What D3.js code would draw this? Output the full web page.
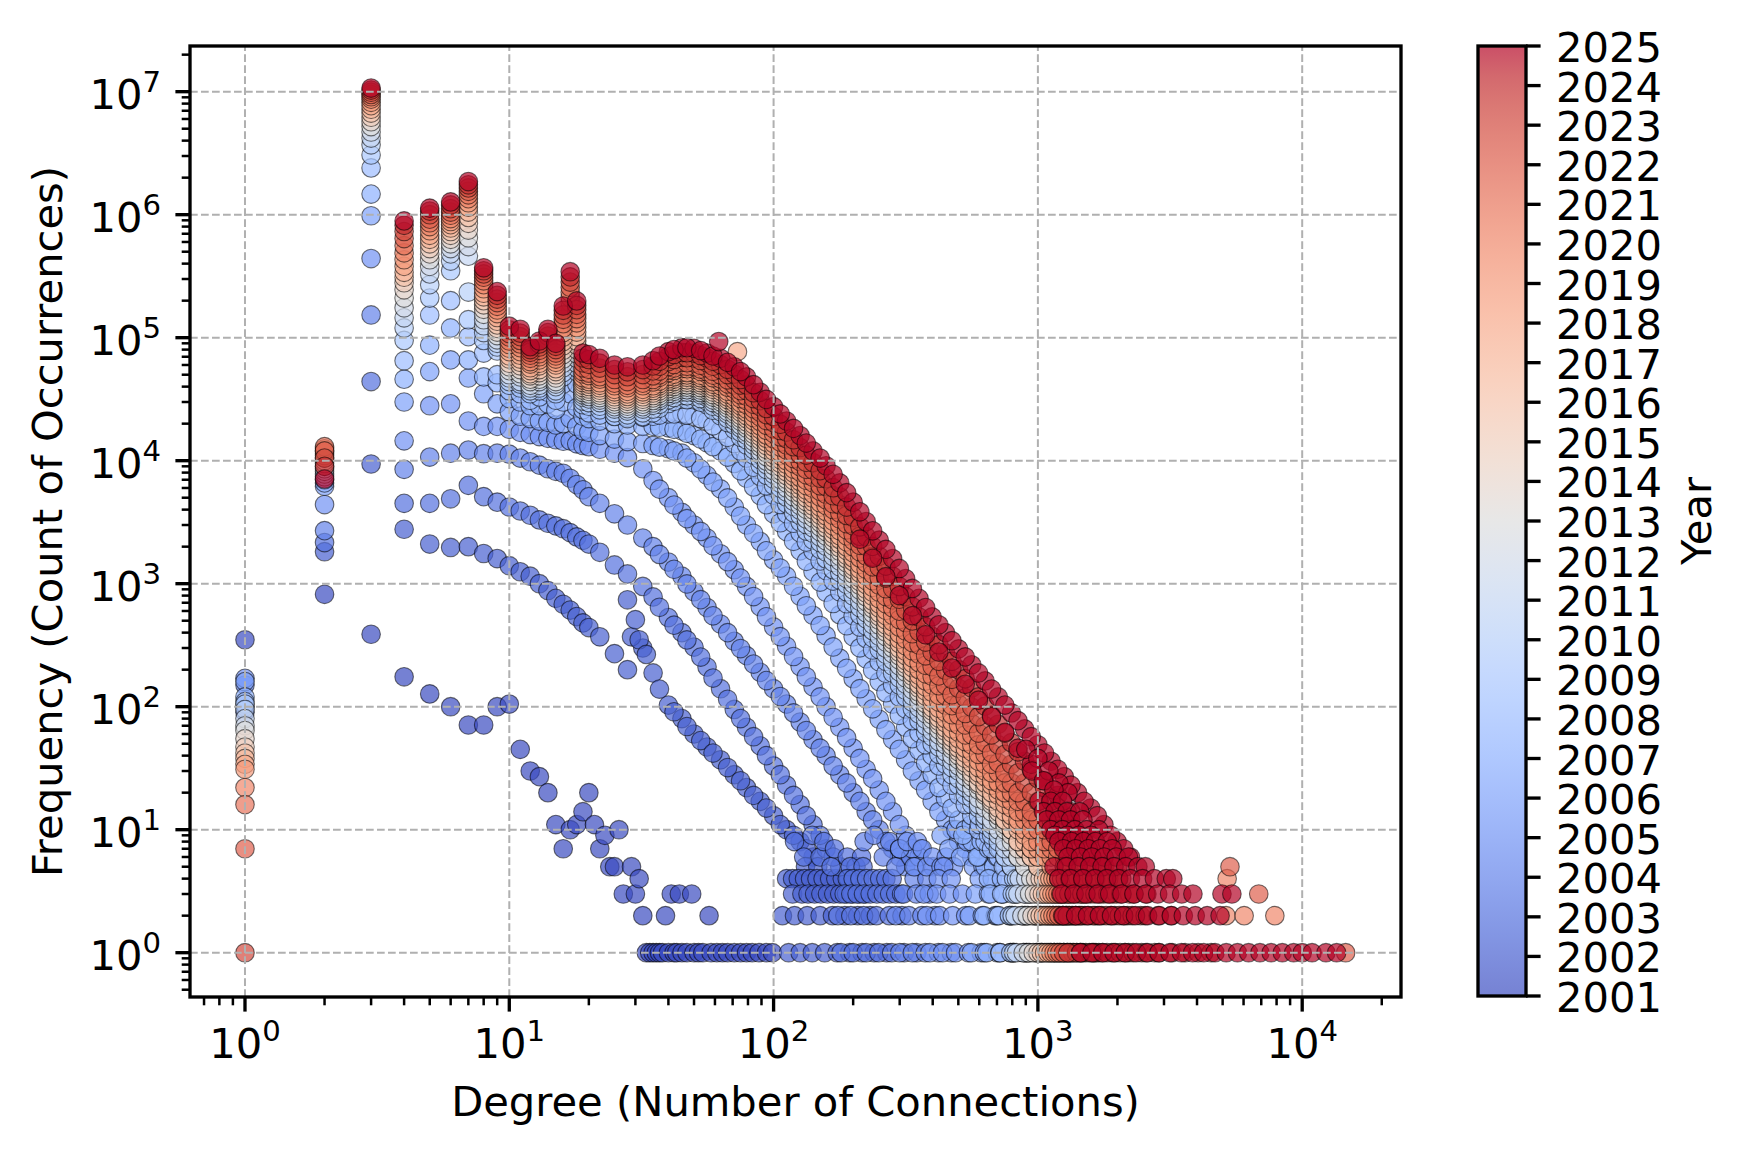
<!doctype html>
<html>

<head>
  <meta charset="utf-8">
  <title>Degree distribution by year</title>
  <script src="https://cdnjs.cloudflare.com/ajax/libs/d3/7.8.5/d3.min.js"></script>
  <style>
    body {
      margin: 0;
      background: #fff;
    }

    svg {
      display: block;
      font-family: 'DejaVu Sans', sans-serif;
    }
  </style>
</head>

<body>
  <svg id="chart" width="1749" height="1156"></svg>
  <script>
    // ---- data ----
    const years = [2001, 2002, 2003, 2004, 2005, 2006, 2007, 2008, 2009, 2010, 2011, 2012, 2013,
      2014, 2015, 2016, 2017, 2018, 2019, 2020, 2021, 2022, 2023, 2024, 2025];

    // degrees at which every year is sampled (the fNNNN arrays follow this order)
    const degGrid = [1, 2, 3, 4, 5, 6, 7, 8, 9, 10, 11, 12, 13, 14, 15, 16, 17, 18,
      19, 20, 22, 25, 28, 32, 35, 40, 45, 50, 56, 63, 71, 79, 89, 100, 112, 126, 141, 158, 178,
      200, 224, 251, 282, 316, 355, 398, 447, 501, 562, 631, 708, 794, 891, 1000, 1122, 1259,
      1413, 1585, 1778, 1995, 2239];
    // further degrees read along the falling part of each curve (the mNNNN arrays follow this order)
    const degMid = [37, 42, 47, 53, 59, 67, 75, 84, 94, 106, 119, 133, 150, 168, 189, 212, 237, 266,
      299, 335, 376, 422, 473, 531, 596, 668, 750, 841, 944, 1059, 1189, 1334, 1496, 1679, 1884, 2113];

    const f2001 = [350, 820, 388, 175, 127, 100, 71, 71, 100, 105, 45, 30, 27, 20, 11, 7, 10, 11, 14, 20];
    const f2002 = [90, 1820, 9400, 2770, 2100, 1970, 2000, 1760, 1600, 1400, 1250, 1150, 1000, 880, 760, 680, 610, 540,
      480, 440, 370, 270, 200, 300, 188, 103, 80, 60, 47, 37, 28, 22, 17, 13, 10, 8, 6];
    const f2003 = [100, 2160, 4.4e4, 4500, 4500, 4900, 6300, 5100, 4600, 4200, 3900, 3600, 3300, 3100, 2950, 2800, 2600, 2400,
      2250, 2100, 1800, 1420, 1200, 950, 780, 530, 400, 305, 210, 140, 95, 68, 48, 33, 23, 16, 11, 7, 5];
    const f2004 = [150, 2700, 1.53e5, 8500, 1.07e4, 1.15e4, 1.22e4, 1.14e4, 1.15e4, 1.13e4, 1.05e4, 9800, 9200, 8600, 8200, 7900, 7200, 6400,
      5800, 5100, 4500, 3700, 3000, 2350, 2000, 1500, 1150, 860, 640, 470, 340, 260, 190, 140, 105, 75, 54, 40, 28,
      20, 14, 10, 7, 5];
    const f2005 = [170, 4400, 4.4e5, 1.45e4, 2.8e4, 2.9e4, 2.1e4, 1.9e4, 1.9e4, 1.8e4, 1.7e4, 1.63e4, 1.57e4, 1.52e4, 1.48e4, 1.44e4, 1.45e4, 1.37e4,
      1.33e4, 1.3e4, 1.24e4, 1.15e4, 1.06e4, 8600, 6900, 5000, 3800, 3000, 2350, 1750, 1300, 950, 650, 445, 310, 212, 145, 100, 68,
      46, 31, 21, 14, 9, 6];
    const f2006 = [160, 6200, 9.8e5, 3.0e4, 5.3e4, 6.6e4, 4.7e4, 3.5e4, 2.9e4, 2.5e4, 2.3e4, 2.2e4, 2.1e4, 2.05e4, 1.95e4, 2.0e4, 2.2e4, 1.9e4,
      1.75e4, 1.7e4, 1.6e4, 1.5e4, 1.43e4, 1.38e4, 1.33e4, 1.25e4, 1.15e4, 9600, 7600, 5900, 4200, 3000, 2200, 1560, 1150, 790, 553, 378, 248,
      169, 116, 79, 54, 37, 25, 17, 12, 8, 6];
    const f2007 = [120, 6600, 1.47e6, 4.6e4, 8.7e4, 1.2e5, 6.6e4, 4.8e4, 4.3e4, 3.2e4, 3.0e4, 2.8e4, 2.8e4, 2.9e4, 2.6e4, 3.0e4, 3.5e4, 2.7e4,
      2.3e4, 2.2e4, 2.1e4, 2.0e4, 1.95e4, 1.9e4, 1.9e4, 1.85e4, 1.75e4, 1.6e4, 1.4e4, 1.2e4, 9500, 7200, 5200, 3700, 2650, 1850, 1250, 850, 560,
      370, 245, 160, 105, 68, 44, 28, 18, 12, 8, 5];
    const f2008 = [110, 7000, 2.4e6, 6.5e4, 1.53e5, 2.0e5, 1.02e5, 7.5e4, 5.0e4, 3.7e4, 3.5e4, 3.1e4, 3.3e4, 3.6e4, 3.1e4, 4.2e4, 5.8e4, 4.2e4,
      2.6e4, 2.45e4, 2.35e4, 2.3e4, 2.25e4, 2.25e4, 2.3e4, 2.4e4, 2.4e4, 2.3e4, 2.1e4, 1.75e4, 1.38e4, 1.05e4, 7450, 5250, 3700, 2590, 1840, 1280, 859,
      550, 359, 232, 150, 96, 61, 40, 27, 19, 13, 8, 6];
    const f2009 = [105, 7400, 3.06e6, 9.5e4, 2.1e5, 3.5e5, 1.4e5, 9.5e4, 7.8e4, 4.1e4, 3.9e4, 3.5e4, 3.7e4, 4.1e4, 3.5e4, 4.8e4, 7.3e4, 5.3e4,
      2.85e4, 2.77e4, 2.59e4, 2.29e4, 2.2e4, 2.29e4, 2.45e4, 2.92e4, 3.16e4, 3.13e4, 2.85e4, 2.32e4, 1.79e4, 1.34e4, 9200, 6310, 4480, 3170, 2260, 1590, 1070,
      692, 452, 292, 188, 120, 77, 50, 34, 23, 16, 11, 7, 5];
    const f2010 = [95, 7800, 3.7e6, 1.2e5, 2.7e5, 4.2e5, 2.35e5, 1.1e5, 8.4e4, 4.4e4, 4.2e4, 3.7e4, 3.9e4, 4.4e4, 3.7e4, 5.2e4, 8.1e4, 5.7e4,
      3.05e4, 2.97e4, 2.77e4, 2.45e4, 2.36e4, 2.45e4, 2.63e4, 3.13e4, 3.39e4, 3.35e4, 3.05e4, 2.51e4, 1.95e4, 1.48e4, 1.02e4, 7080, 5050, 3580, 2570, 1810, 1230,
      794, 518, 333, 214, 136, 87, 57, 39, 26, 18, 12, 8, 5];
    const f2011 = [80, 8200, 4.2e6, 1.45e5, 3.3e5, 4.8e5, 4.6e5, 1.25e5, 9.0e4, 4.7e4, 4.4e4, 3.9e4, 4.1e4, 4.7e4, 4.0e4, 5.7e4, 8.9e4, 6.2e4,
      3.27e4, 3.18e4, 2.97e4, 2.63e4, 2.53e4, 2.63e4, 2.82e4, 3.36e4, 3.63e4, 3.59e4, 3.27e4, 2.7e4, 2.11e4, 1.61e4, 1.12e4, 7760, 5550, 3950, 2850, 2010, 1370,
      891, 581, 373, 240, 153, 98, 63, 43, 30, 20, 13, 9, 6];
    const f2012 = [70, 8600, 4.7e6, 1.75e5, 3.8e5, 5.3e5, 5.5e5, 1.4e5, 9.6e4, 5.0e4, 4.8e4, 4.1e4, 4.4e4, 5.0e4, 4.2e4, 6.2e4, 9.8e4, 6.8e4,
      3.43e4, 3.33e4, 3.11e4, 2.75e4, 2.65e4, 2.75e4, 2.95e4, 3.52e4, 3.8e4, 3.76e4, 3.43e4, 2.84e4, 2.23e4, 1.71e4, 1.19e4, 8320, 6000, 4310, 3130, 2230, 1530,
      1000, 652, 419, 270, 172, 109, 71, 49, 33, 22, 15, 10, 7, 5];
    const f2013 = [64, 9000, 5.2e6, 2.1e5, 4.3e5, 5.8e5, 6.5e5, 1.55e5, 1.04e5, 5.4e4, 5.1e4, 4.4e4, 4.6e4, 5.3e4, 4.4e4, 6.7e4, 1.08e5, 7.4e4,
      3.59e4, 3.49e4, 3.26e4, 2.88e4, 2.77e4, 2.88e4, 3.09e4, 3.68e4, 3.98e4, 3.94e4, 3.59e4, 3.01e4, 2.38e4, 1.84e4, 1.29e4, 9120, 6580, 4720, 3430, 2440, 1670,
      1100, 716, 462, 299, 191, 122, 79, 54, 37, 25, 17, 12, 8, 5];
    const f2014 = [55, 9500, 5.7e6, 2.45e5, 4.8e5, 6.3e5, 7.5e5, 1.7e5, 1.11e5, 5.8e4, 5.5e4, 4.6e4, 4.9e4, 5.7e4, 4.7e4, 7.3e4, 1.19e5, 8.0e4,
      3.76e4, 3.66e4, 3.41e4, 3.02e4, 2.9e4, 3.02e4, 3.24e4, 3.85e4, 4.17e4, 4.12e4, 3.76e4, 3.16e4, 2.51e4, 1.95e4, 1.38e4, 9770, 7060, 5090, 3720, 2650, 1830,
      1200, 783, 504, 324, 207, 131, 86, 58, 40, 27, 19, 13, 9, 6];
    const f2015 = [47, 10000, 6.2e6, 2.8e5, 5.3e5, 6.8e5, 8.5e5, 1.85e5, 1.19e5, 6.2e4, 5.9e4, 4.9e4, 5.2e4, 6.1e4, 5.0e4, 7.9e4, 1.31e5, 8.7e4,
      3.94e4, 3.83e4, 3.57e4, 3.16e4, 3.04e4, 3.16e4, 3.39e4, 4.04e4, 4.37e4, 4.32e4, 3.94e4, 3.33e4, 2.65e4, 2.07e4, 1.47e4, 1.05e4, 7570, 5460, 3980, 2840, 1960,
      1290, 839, 540, 348, 221, 141, 92, 63, 43, 29, 20, 14, 10, 7, 5];
    const f2016 = [42, 10500, 6.7e6, 3.1e5, 5.8e5, 7.3e5, 9.5e5, 2.0e5, 1.27e5, 6.7e4, 6.3e4, 5.1e4, 5.5e4, 6.5e4, 5.3e4, 8.6e4, 1.44e5, 9.4e4,
      4.12e4, 4.01e4, 3.74e4, 3.31e4, 3.18e4, 3.31e4, 3.55e4, 4.23e4, 4.57e4, 4.52e4, 4.12e4, 3.5e4, 2.81e4, 2.2e4, 1.57e4, 1.12e4, 8110, 5850, 4270, 3050, 2100,
      1380, 899, 578, 372, 237, 151, 98, 67, 46, 32, 22, 15, 10, 7, 5];
    const f2017 = [38, 11000, 7.2e6, 3.4e5, 6.3e5, 7.8e5, 1.05e6, 2.15e5, 1.36e5, 7.1e4, 6.7e4, 5.4e4, 5.9e4, 6.9e4, 5.6e4, 9.3e4, 1.59e5, 1.02e5,
      4.32e4, 4.2e4, 3.92e4, 3.47e4, 3.33e4, 3.47e4, 3.72e4, 4.43e4, 4.79e4, 4.73e4, 4.32e4, 3.68e4, 2.96e4, 2.33e4, 1.67e4, 1.2e4, 8730, 6310, 4620, 3320, 2290,
      1510, 986, 634, 408, 260, 166, 108, 74, 50, 35, 24, 17, 12, 8, 6];
    const f2018 = [34, 11500, 7.7e6, 3.8e5, 6.8e5, 8.3e5, 1.15e6, 2.3e5, 1.46e5, 7.7e4, 7.2e4, 5.7e4, 6.2e4, 7.4e4, 6.0e4, 1.01e5, 1.75e5, 1.11e5,
      4.52e4, 4.4e4, 4.1e4, 3.63e4, 3.49e4, 3.63e4, 3.89e4, 4.63e4, 5.01e4, 4.95e4, 4.52e4, 3.87e4, 3.13e4, 2.48e4, 1.79e4, 1.29e4, 9350, 6760, 4950, 3560, 2450,
      1620, 1060, 684, 442, 282, 180, 117, 80, 55, 38, 27, 19, 13, 9, 6];
    const f2019 = [31, 12000, 8.2e6, 4.3e5, 7.4e5, 8.8e5, 1.25e6, 2.5e5, 1.57e5, 8.2e4, 7.7e4, 6.1e4, 6.6e4, 7.9e4, 6.3e4, 1.1e5, 1.93e5, 1.21e5,
      4.73e4, 4.6e4, 4.3e4, 3.8e4, 3.66e4, 3.8e4, 4.07e4, 4.85e4, 5.25e4, 5.19e4, 4.73e4, 4.07e4, 3.31e4, 2.63e4, 1.91e4, 1.38e4, 1.0e4, 7310, 5370, 3860, 2690,
      1780, 1160, 754, 489, 313, 200, 131, 90, 62, 43, 30, 21, 15, 10, 7, 5];
    const f2020 = [22, 12500, 8.7e6, 4.9e5, 8.0e5, 9.3e5, 1.35e6, 2.7e5, 1.68e5, 8.8e4, 8.3e4, 6.4e4, 7.0e4, 8.4e4, 6.7e4, 1.2e5, 2.12e5, 1.32e5,
      5.07e4, 4.93e4, 4.6e4, 4.07e4, 3.92e4, 4.07e4, 4.37e4, 5.2e4, 5.62e4, 5.56e4, 5.07e4, 4.39e4, 3.58e4, 2.86e4, 2.08e4, 1.51e4, 1.11e4, 8070, 5960, 4310, 3000,
      2000, 1310, 851, 553, 355, 228, 150, 103, 71, 49, 34, 24, 17, 12, 8, 6];
    const f2021 = [16, 13000, 9.1e6, 5.6e5, 8.6e5, 9.9e5, 1.45e6, 2.9e5, 1.8e5, 9.4e4, 8.9e4, 6.8e4, 7.4e4, 9.0e4, 7.1e4, 1.3e5, 2.34e5, 1.43e5,
      5.31e4, 5.16e4, 4.82e4, 4.27e4, 4.1e4, 4.27e4, 4.57e4, 5.45e4, 5.89e4, 5.82e4, 5.31e4, 4.63e4, 3.82e4, 3.08e4, 2.26e4, 1.66e4, 1.22e4, 8910, 6610, 4800, 3350,
      2240, 1480, 971, 637, 412, 267, 177, 123, 85, 59, 41, 29, 20, 14, 10, 7, 5];
    const f2022 = [7, 12000, 9.5e6, 6.4e5, 9.2e5, 1.05e6, 1.55e6, 3.1e5, 1.93e5, 1.01e5, 9.5e4, 7.2e4, 7.9e4, 9.6e4, 7.5e4, 1.41e5, 2.57e5, 1.55e5,
      5.69e4, 5.53e4, 5.16e4, 4.57e4, 4.4e4, 4.57e4, 4.9e4, 5.83e4, 6.31e4, 6.24e4, 5.69e4, 4.99e4, 4.13e4, 3.34e4, 2.47e4, 1.82e4, 1.34e4, 9860, 7330, 5330, 3750,
      2510, 1680, 1120, 740, 484, 317, 212, 149, 105, 73, 51, 35, 24, 17, 12, 8, 6];
    const f2023 = [1, 10500, 9.9e6, 7.3e5, 1.0e6, 1.12e6, 1.65e6, 3.3e5, 2.06e5, 1.08e5, 1.02e5, 7.6e4, 8.4e4, 1.03e5, 8.0e4, 1.53e5, 2.83e5, 1.69e5,
      6.24e4, 6.07e4, 5.66e4, 5.01e4, 4.82e4, 5.01e4, 5.37e4, 6.4e4, 6.92e4, 6.84e4, 6.24e4, 5.5e4, 4.57e4, 3.72e4, 2.75e4, 2.04e4, 1.51e4, 1.12e4, 8410, 6170, 4370,
      2950, 2010, 1360, 914, 610, 406, 277, 198, 141, 99, 70, 49, 34, 24, 17, 12, 8, 6];
    const f2024 = [null, 9000, 1.03e7, 8.2e5, 1.07e6, 1.2e6, 1.75e6, 3.5e5, 2.21e5, 1.16e5, 1.09e5, 8.0e4, 8.9e4, 1.1e5, 8.5e4, 1.67e5, 3.12e5, 1.83e5,
      6.84e4, 6.65e4, 6.21e4, 5.5e4, 5.28e4, 5.5e4, 5.89e4, 7.02e4, 7.59e4, 7.5e4, 6.84e4, 6.05e4, 5.06e4, 4.13e4, 3.08e4, 2.29e4, 1.71e4, 1.28e4, 9660, 7140, 5090,
      3470, 2420, 1670, 1150, 785, 536, 373, 273, 200, 142, 101, 72, 51, 36, 26, 18, 13, 9, 7, 5];
    const f2025 = [null, 7100, 1.07e7, 8.9e5, 1.13e6, 1.27e6, 1.86e6, 3.7e5, 2.37e5, 1.24e5, 1.17e5, 8.45e4, 9.4e4, 1.17e5, 9.0e4, 1.81e5, 3.44e5, 1.99e5,
      7.5e4, 7.3e4, 6.8e4, 6.0e4, 5.8e4, 6.0e4, 6.5e4, 7.7e4, 8.3e4, 8.2e4, 7.5e4, 6.8e4, 5.8e4, 4.8e4, 3.6e4, 2.75e4, 2.1e4, 1.6e4, 1.2e4, 9100, 6600,
      4600, 3200, 2260, 1600, 1100, 760, 537, 400, 295, 219, 162, 120, 89, 66, 49, 36, 27, 20, 15, 11, 8, 6];

    const m2001 = [];
    const m2002 = [139, 91, 69, 53, 42, 32, 25, 19, 15, 11, 9, 7];
    const m2003 = [643, 460, 349, 253, 171, 115, 80, 57, 40, 28, 19, 13, 9, 6];
    const m2004 = [1730, 1310, 995, 742, 548, 400, 297, 222, 163, 121, 89, 64, 46, 33, 24, 17, 12, 8, 6];
    const m2005 = [5870, 4360, 3380, 2660, 2030, 1510, 1110, 786, 538, 371, 256, 175, 120, 82, 56, 38, 26, 17, 11, 7];
    const m2006 = [1.29e4, 1.2e4, 1.05e4, 8540, 6700, 4980, 3550, 2570, 1850, 1340, 953, 661, 457, 306, 205, 140, 96, 65, 45, 30, 21, 14, 10, 7];
    const m2007 = [1.87e4, 1.8e4, 1.67e4, 1.5e4, 1.3e4, 1.07e4, 8270, 6120, 4390, 3130, 2210, 1520, 1030, 690, 455, 301, 198, 130, 85, 55, 35, 22, 15, 10, 6];
    const m2008 = [2.35e4, 2.4e4, 2.35e4, 2.2e4, 1.92e4, 1.55e4, 1.2e4, 8850, 6250, 4410, 3100, 2180, 1530, 1050, 687, 444, 289, 187, 120, 77, 49, 33, 23, 16, 10, 7];
    const m2009 = [2.67e4, 3.04e4, 3.14e4, 2.99e4, 2.57e4, 2.04e4, 1.55e4, 1.11e4, 7620, 5320, 3770, 2680, 1900, 1300, 860, 559, 363, 234, 150, 96, 62, 41, 28, 19, 13, 9, 6];
    const m2010 = [2.87e4, 3.26e4, 3.37e4, 3.2e4, 2.77e4, 2.21e4, 1.7e4, 1.23e4, 8500, 5980, 4250, 3030, 2160, 1490, 988, 641, 415, 267, 171, 109, 70, 47, 32, 22, 15, 10, 6];
    const m2011 = [3.08e4, 3.49e4, 3.61e4, 3.43e4, 2.97e4, 2.39e4, 1.84e4, 1.34e4, 9320, 6560, 4680, 3360, 2390, 1660, 1100, 720, 466, 299, 192, 122, 79, 52, 36, 24, 16, 11, 7];
    const m2012 = [3.22e4, 3.66e4, 3.78e4, 3.59e4, 3.12e4, 2.52e4, 1.95e4, 1.43e4, 9950, 7070, 5090, 3670, 2640, 1850, 1240, 807, 523, 336, 215, 137, 88, 59, 40, 27, 18, 12, 8, 6];
    const m2013 = [3.37e4, 3.83e4, 3.96e4, 3.76e4, 3.29e4, 2.68e4, 2.09e4, 1.54e4, 1.08e4, 7750, 5570, 4020, 2890, 2020, 1360, 887, 575, 372, 239, 153, 98, 65, 45, 30, 21, 14, 10, 6];
    const m2014 = [3.53e4, 4.01e4, 4.14e4, 3.94e4, 3.45e4, 2.82e4, 2.21e4, 1.64e4, 1.16e4, 8300, 5990, 4350, 3140, 2200, 1480, 969, 628, 404, 259, 165, 106, 71, 48, 33, 23, 16, 11, 7];
    const m2015 = [3.7e4, 4.2e4, 4.34e4, 4.13e4, 3.62e4, 2.97e4, 2.34e4, 1.74e4, 1.24e4, 8920, 6430, 4660, 3360, 2360, 1590, 1040, 673, 434, 277, 177, 114, 76, 52, 35, 24, 17, 12, 8, 6];
    const m2016 = [3.88e4, 4.4e4, 4.54e4, 4.32e4, 3.8e4, 3.14e4, 2.49e4, 1.86e4, 1.33e4, 9530, 6890, 5000, 3610, 2530, 1700, 1110, 721, 464, 297, 189, 122, 81, 56, 38, 27, 18, 12, 8, 6];
    const m2017 = [4.06e4, 4.61e4, 4.76e4, 4.52e4, 3.99e4, 3.3e4, 2.63e4, 1.97e4, 1.42e4, 1.02e4, 7420, 5400, 3920, 2760, 1860, 1220, 791, 509, 326, 208, 134, 89, 61, 42, 29, 20, 14, 10, 7];
    const m2018 = [4.24e4, 4.82e4, 4.98e4, 4.73e4, 4.18e4, 3.48e4, 2.79e4, 2.11e4, 1.52e4, 1.1e4, 7950, 5780, 4200, 2950, 1990, 1310, 852, 550, 353, 225, 145, 97, 66, 46, 32, 23, 16, 11, 7];
    const m2019 = [4.44e4, 5.05e4, 5.22e4, 4.95e4, 4.39e4, 3.67e4, 2.95e4, 2.24e4, 1.62e4, 1.17e4, 8550, 6270, 4550, 3220, 2190, 1440, 935, 607, 391, 250, 162, 109, 75, 52, 36, 25, 18, 12, 8, 6];
    const m2020 = [4.77e4, 5.41e4, 5.59e4, 5.31e4, 4.72e4, 3.96e4, 3.2e4, 2.44e4, 1.77e4, 1.29e4, 9460, 6940, 5070, 3600, 2450, 1620, 1060, 686, 443, 285, 185, 124, 86, 59, 41, 29, 20, 14, 10, 7];
    const m2021 = [4.99e4, 5.67e4, 5.85e4, 5.56e4, 4.96e4, 4.21e4, 3.43e4, 2.64e4, 1.94e4, 1.42e4, 1.04e4, 7670, 5630, 4010, 2740, 1820, 1200, 786, 512, 332, 217, 148, 102, 71, 49, 34, 24, 17, 12, 8, 6];
    const m2022 = [5.35e4, 6.06e4, 6.27e4, 5.96e4, 5.33e4, 4.54e4, 3.71e4, 2.87e4, 2.12e4, 1.56e4, 1.15e4, 8500, 6250, 4470, 3070, 2050, 1370, 910, 598, 392, 259, 178, 125, 88, 61, 42, 29, 20, 14, 10, 7];
    const m2023 = [5.86e4, 6.65e4, 6.88e4, 6.53e4, 5.86e4, 5.01e4, 4.12e4, 3.2e4, 2.37e4, 1.76e4, 1.3e4, 9700, 7200, 5190, 3590, 2430, 1650, 1110, 747, 498, 335, 234, 167, 118, 83, 59, 41, 29, 20, 14, 10, 7];
    const m2024 = [6.43e4, 7.3e4, 7.55e4, 7.16e4, 6.43e4, 5.53e4, 4.57e4, 3.57e4, 2.66e4, 1.98e4, 1.48e4, 1.11e4, 8300, 6030, 4200, 2900, 2010, 1390, 950, 649, 447, 319, 234, 169, 120, 85, 61, 43, 31, 22, 15, 11, 8, 6];
    const m2025 = [7.1e4, 8.0e4, 8.3e4, 7.85e4, 7.1e4, 6.3e4, 5.3e4, 4.15e4, 3.15e4, 2.4e4, 1.83e4, 1.39e4, 1.05e4, 7750, 5500, 3840, 2690, 1900, 1330, 915, 640, 463, 344, 254, 188, 139, 103, 77, 57, 42, 31, 23, 17, 13, 9, 7];

    // extra [degree, frequency] points: scattered counts and the low-count rows of the tails
    const x2001 = [[21, 11], [22, 7], [23, 9], [24, 5], [25, 5], [26, 10], [27, 3], [29, 5], [30, 3], [31, 4], [32, 2], [39, 2],
      [41, 3], [44, 3], [49, 3], [57, 2], [33, 1], [34, 1], [35, 1], [36, 1], [37, 1], [38, 1], [40, 1], [42, 1], [43, 1],
      [45, 1], [47, 1], [50, 1], [52, 1], [54, 1], [58, 1], [61, 1], [64, 1], [67, 1], [71, 1], [75, 1], [79, 1], [83, 1],
      [88, 1], [94, 1], [99, 1]];
    const x2002 = [[28, 740], [29, 370], [30, 510], [31, 350], [33, 266], [132, 5], [147, 5],
      [112, 4], [118, 4], [124, 4], [131, 4], [138, 4], [146, 4], [154, 4], [163, 4], [172, 4], [182, 4], [192, 4],
      [118, 3], [128, 3], [135, 3], [143, 3], [151, 3], [160, 3], [169, 3], [178, 3], [189, 3], [199, 3], [211, 3], [222, 3],
      [108, 2], [120, 2], [134, 2], [150, 2], [167, 2], [186, 2], [208, 2], [232, 2],
      [114, 1], [126, 1], [140, 1], [156, 1], [174, 1], [194, 1], [216, 1], [240, 1], [268, 1]];
    const x2003 = [[120, 8], [130, 6], [140, 9], [150, 6], [155, 8], [165, 5], [170, 7], [190, 6], [205, 5], [215, 6],
      [195, 5], [218, 5], [190, 4], [200, 4], [212, 4], [225, 4], [238, 4], [252, 4], [266, 4], [281, 4],
      [185, 3], [196, 3], [207, 3], [219, 3], [232, 3], [246, 3], [260, 3], [275, 3], [290, 3], [305, 3],
      [175, 2], [196, 2], [219, 2], [245, 2], [274, 2], [306, 2], [180, 1], [200, 1], [224, 1], [250, 1], [280, 1], [312, 1], [348, 1]];
    const x2004 = [[220, 8], [240, 9], [260, 6], [275, 8], [290, 5], [300, 7], [330, 6], [345, 5], [360, 7], [400, 5],
      [340, 4], [380, 4], [310, 3], [347, 3], [388, 3], [290, 2], [325, 2], [364, 2], [408, 2],
      [300, 1], [335, 1], [375, 1], [420, 1], [470, 1]];
    const x2005 = [[300, 7], [320, 8], [340, 5], [350, 8], [365, 7], [380, 5], [400, 6], [430, 5], [450, 6], [480, 5],
      [440, 5], [420, 4], [470, 4], [370, 3], [414, 3], [463, 3], [518, 3], [380, 2], [425, 2], [476, 2], [533, 2],
      [390, 1], [436, 1], [488, 1], [546, 1], [610, 1]];
    const x2006 = [[430, 9], [460, 7], [490, 10], [510, 6], [540, 8], [570, 5], [600, 7], [620, 5], [650, 6],
      [600, 4], [672, 4], [580, 3], [650, 3], [728, 3], [550, 2], [616, 2], [690, 2], [560, 1], [627, 1], [702, 1], [786, 1]];
    const x2007 = [[520, 9], [560, 11], [590, 6], [610, 8], [650, 7], [680, 5], [700, 6],
      [650, 4], [728, 4], [660, 3], [739, 3], [625, 2], [700, 2], [784, 2], [640, 1], [717, 1], [803, 1]];
    const x2008 = [[600, 11], [650, 9], [680, 8], [720, 7], [750, 5], [780, 6],
      [740, 5], [760, 4], [730, 3], [818, 3], [710, 2], [795, 2], [890, 2], [720, 1], [806, 1], [903, 1]];
    const x2009 = [[810, 4], [800, 3], [896, 3], [780, 2], [874, 2], [978, 2], [790, 1], [885, 1], [990, 1]];
    const x2010 = [[830, 4], [820, 3], [918, 3], [800, 2], [896, 2], [1003, 2], [810, 1], [907, 1], [1016, 1]];
    const x2011 = [[850, 4], [840, 3], [940, 3], [820, 2], [918, 2], [1028, 2], [830, 1], [930, 1], [1040, 1]];
    const x2012 = [[900, 4], [1008, 4], [890, 3], [997, 3], [870, 2], [974, 2], [1090, 2], [880, 1], [986, 1], [1104, 1]];
    const x2013 = [[940, 4], [930, 3], [1042, 3], [910, 2], [1019, 2], [1141, 2], [920, 1], [1030, 1], [1154, 1]];
    const x2014 = [[980, 4], [970, 3], [1086, 3], [950, 2], [1064, 2], [1192, 2], [960, 1], [1075, 1], [1204, 1]];
    const x2015 = [[1020, 4], [1010, 3], [1131, 3], [990, 2], [1109, 2], [1242, 2], [1000, 1], [1120, 1], [1254, 1]];
    const x2016 = [[1050, 4], [1040, 3], [1165, 3], [1020, 2], [1142, 2], [1280, 2], [1030, 1], [1154, 1], [1292, 1]];
    const x2017 = [[1080, 4], [1070, 3], [1198, 3], [1050, 2], [1176, 2], [1317, 2], [1060, 1], [1187, 1], [1330, 1]];
    const x2018 = [[73, 7.7e4], [1110, 4], [1243, 4], [1100, 3], [1232, 3], [1080, 2], [1210, 2], [1355, 2], [1090, 1], [1221, 1], [1367, 1]];
    const x2019 = [[1140, 4], [1277, 4], [1130, 3], [1266, 3], [1110, 2], [1243, 2], [1392, 2], [1120, 1], [1254, 1], [1405, 1]];
    const x2020 = [[1170, 4], [1310, 4], [5200, 4], [1160, 3], [1299, 3], [1455, 3], [1140, 2], [1277, 2], [1430, 2], [5150, 2],
      [6030, 2], [7880, 2], [1150, 1], [1288, 1], [1443, 1], [1616, 1]];
    const x2021 = [[1300, 5], [1200, 4], [1344, 4], [1505, 4], [1190, 3], [1333, 3], [1493, 3], [1170, 2], [1310, 2], [1467, 2], [1643, 2],
      [1180, 1], [1322, 1], [1480, 1], [1658, 1]];
    const x2022 = [[1260, 5], [1411, 5], [5330, 5], [1230, 4], [1378, 4], [1543, 4], [1728, 4], [1220, 3], [1366, 3], [1530, 3], [1714, 3],
      [1920, 3], [6850, 3], [1200, 2], [1344, 2], [1505, 2], [1686, 2], [1888, 2], [2115, 2], [1210, 1], [1355, 1], [1518, 1], [1700, 1],
      [1904, 1], [2132, 1], [14600, 1]];
    const x2023 = [[1300, 5], [1456, 5], [1631, 5], [1270, 4], [1422, 4], [1593, 4], [1784, 4], [1998, 4], [1260, 3], [1411, 3], [1580, 3],
      [1770, 3], [1982, 3], [2220, 3], [1240, 2], [1389, 2], [1555, 2], [1742, 2], [1951, 2], [2185, 2], [2448, 2], [1250, 1], [1400, 1],
      [1568, 1], [1756, 1], [1967, 1], [2203, 1], [2467, 1], [2763, 1]];
    const x2024 = [[1600, 5], [1792, 5], [2007, 5], [1320, 4], [1478, 4], [1656, 4], [1854, 4], [2077, 4], [1310, 3], [1467, 3], [1643, 3],
      [1840, 3], [2061, 3], [2308, 3], [2585, 3], [1290, 2], [1445, 2], [1618, 2], [1812, 2], [2030, 2], [2273, 2], [2546, 2], [2852, 2],
      [3194, 2], [1300, 1], [1456, 1], [1631, 1], [1826, 1], [2046, 1], [2291, 1], [2566, 1], [2874, 1], [3219, 1], [3605, 1], [4038, 1],
      [4522, 1]];
    const x2025 = [[62, 9.3e4],
      // lower edge of the thick 2025 band
      [212, 2300], [237, 1610], [266, 1140], [299, 800], [335, 550], [376, 384], [422, 278], [473, 206], [531, 152],
      [596, 113], [668, 83], [750, 62], [841, 46], [944, 34], [1059, 25], [1189, 19], [1334, 14],
      [900, 45], [1000, 38], [1100, 30], [1200, 24], [1300, 20], [950, 30], [1050, 25], [1150, 21],
      [1010, 17], [1120, 17], [1240, 17], [1050, 14], [1160, 14], [1290, 14], [1440, 14], [1080, 12], [1200, 12], [1330, 12], [1480, 12],
      [1120, 10], [1240, 10], [1380, 10], [1530, 10], [1700, 10], [1160, 9], [1290, 9], [1430, 9], [1590, 9],
      [1200, 8], [1340, 8], [1490, 8], [1650, 8], [1830, 8], [1250, 7], [1390, 7], [1550, 7], [1720, 7], [1910, 7],
      [1300, 6], [1450, 6], [1600, 6], [1780, 6], [1980, 6], [2200, 6],
      [1150, 5], [1280, 5], [1420, 5], [1570, 5], [1750, 5], [1940, 5], [2150, 5], [2390, 5], [2550, 5],
      [1200, 4], [1330, 4], [1480, 4], [1640, 4], [1820, 4], [2020, 4], [2240, 4], [2490, 4], [2760, 4], [3060, 4], [3240, 4],
      [1230, 3], [1370, 3], [1520, 3], [1690, 3], [1870, 3], [2080, 3], [2310, 3], [2560, 3], [2840, 3], [3150, 3], [3500, 3],
      [3860, 3], [4970, 3], [5420, 3],
      [1250, 2], [1390, 2], [1540, 2], [1710, 2], [1900, 2], [2110, 2], [2340, 2], [2600, 2], [2880, 2], [3200, 2], [3550, 2],
      [3940, 2], [4370, 2], [4890, 2],
      [1450, 1], [1600, 1], [1760, 1], [1940, 1], [2140, 1], [2360, 1], [2600, 1], [2870, 1], [3160, 1], [3490, 1], [3850, 1],
      [4240, 1], [4680, 1], [5160, 1], [5690, 1], [6270, 1], [6920, 1], [7630, 1], [8410, 1], [9280, 1], [10000, 1], [10900, 1],
      [12300, 1], [13500, 1]];

    const xTicks = [1, 10, 100, 1000, 10000];
    const yTicks = [1, 10, 100, 1e3, 1e4, 1e5, 1e6, 1e7];

    // ---- colour map (matplotlib coolwarm) ----
    const coolStops = [[59, 76, 192], [68, 90, 204], [77, 104, 215], [87, 117, 225], [98, 130, 234], [108, 142, 241],
      [119, 154, 247], [130, 165, 251], [141, 176, 254], [152, 185, 255], [163, 194, 255], [174, 201, 253], [184, 208, 249],
      [194, 213, 244], [204, 217, 238], [213, 219, 230], [221, 221, 221], [229, 216, 209], [236, 211, 197], [241, 204, 185],
      [245, 196, 173], [247, 187, 160], [247, 177, 148], [247, 166, 135], [244, 154, 123], [241, 141, 111], [236, 127, 99],
      [229, 112, 88], [222, 96, 77], [213, 80, 66], [203, 62, 56], [192, 40, 47], [180, 4, 38]];
    const coolwarm = d3.scaleLinear()
      .domain(coolStops.map((c, i) => i / (coolStops.length - 1)))
      .range(coolStops.map(c => d3.rgb(c[0], c[1], c[2]).toString()))
      .interpolate(d3.interpolateRgb);

    const series = [
      [2001, f2001, m2001, x2001], [2002, f2002, m2002, x2002], [2003, f2003, m2003, x2003], [2004, f2004, m2004, x2004],
      [2005, f2005, m2005, x2005], [2006, f2006, m2006, x2006], [2007, f2007, m2007, x2007], [2008, f2008, m2008, x2008],
      [2009, f2009, m2009, x2009], [2010, f2010, m2010, x2010], [2011, f2011, m2011, x2011], [2012, f2012, m2012, x2012],
      [2013, f2013, m2013, x2013], [2014, f2014, m2014, x2014], [2015, f2015, m2015, x2015], [2016, f2016, m2016, x2016],
      [2017, f2017, m2017, x2017], [2018, f2018, m2018, x2018], [2019, f2019, m2019, x2019], [2020, f2020, m2020, x2020],
      [2021, f2021, m2021, x2021], [2022, f2022, m2022, x2022], [2023, f2023, m2023, x2023], [2024, f2024, m2024, x2024],
      [2025, f2025, m2025, x2025]
    ];

    // ---- layout ----
    const W = 1749, H = 1156;
    const m = { left: 190, right: 1401, top: 46, bottom: 997 };
    const fs = 41.67;          // 10pt at 300 dpi
    const spineW = 3.33;

    const svg = d3.select("#chart");
    svg.append("rect").attr("width", W).attr("height", H).attr("fill", "#fff");

    const x = d3.scaleLog().domain([0.6194, 23650]).range([m.left, m.right]);
    const y = d3.scaleLog().domain([0.4363, 2.352e7]).range([m.bottom, m.top]);

    svg.append("clipPath").attr("id", "clip")
      .append("rect").attr("x", m.left).attr("y", m.top)
      .attr("width", m.right - m.left).attr("height", m.bottom - m.top);

    // scatter, one layer per year, later years on top
    const dots = svg.append("g").attr("clip-path", "url(#clip)");
    series.forEach(([yr, freqs, mids, extra]) => {
      const pts = degGrid.map((d, i) => [d, freqs[i]])
        .concat(degMid.map((d, i) => [d, mids[i]]))
        .filter(p => p[1] != null)
        .concat(extra);
      dots.append("g")
        .selectAll("circle")
        .data(pts)
        .join("circle")
        .attr("cx", d => x(d[0]))
        .attr("cy", d => y(d[1]))
        .attr("r", 9.3)
        .attr("fill", coolwarm((yr - 2001) / 24))
        .attr("fill-opacity", 0.7)
        .attr("stroke", "#000")
        .attr("stroke-opacity", 0.55)
        .attr("stroke-width", 1.1);
    });

    // dashed grid above the points (as in the figure)
    const grid = svg.append("g")
      .attr("stroke", "#b0b0b0")
      .attr("stroke-width", 2)
      .attr("stroke-dasharray", "7.7,3.3");
    grid.selectAll(".gx").data(xTicks).join("line")
      .attr("x1", d => x(d)).attr("x2", d => x(d))
      .attr("y1", m.bottom).attr("y2", m.top);
    grid.selectAll(".gy").data(yTicks).join("line")
      .attr("y1", d => y(d)).attr("y2", d => y(d))
      .attr("x1", m.left).attr("x2", m.right);

    // ticks
    function minorTicks(scale, lo, hi) {
      const out = [];
      const [a, b] = scale.domain();
      for (let k = lo; k <= hi; k++) {
        for (let j = 2; j <= 9; j++) {
          const v = j * Math.pow(10, k);
          if (v >= a && v <= b) out.push(v);
        }
      }
      return out;
    }
    const axes = svg.append("g").attr("stroke", "#000");
    axes.selectAll(".xmaj").data(xTicks).join("line")
      .attr("x1", d => x(d)).attr("x2", d => x(d))
      .attr("y1", m.bottom).attr("y2", m.bottom + 14.6)
      .attr("stroke-width", spineW);
    axes.selectAll(".xmin").data(minorTicks(x, -1, 4)).join("line")
      .attr("x1", d => x(d)).attr("x2", d => x(d))
      .attr("y1", m.bottom).attr("y2", m.bottom + 8.3)
      .attr("stroke-width", 2.5);
    axes.selectAll(".ymaj").data(yTicks).join("line")
      .attr("y1", d => y(d)).attr("y2", d => y(d))
      .attr("x1", m.left).attr("x2", m.left - 14.6)
      .attr("stroke-width", spineW);
    axes.selectAll(".ymin").data(minorTicks(y, -1, 7)).join("line")
      .attr("y1", d => y(d)).attr("y2", d => y(d))
      .attr("x1", m.left).attr("x2", m.left - 8.3)
      .attr("stroke-width", 2.5);

    // spines
    svg.append("rect")
      .attr("x", m.left).attr("y", m.top)
      .attr("width", m.right - m.left).attr("height", m.bottom - m.top)
      .attr("fill", "none").attr("stroke", "#000").attr("stroke-width", spineW);

    // tick labels as 10^n
    function powLabel(g, v) {
      const e = Math.round(Math.log10(v));
      g.append("tspan").text("10");
      g.append("tspan").attr("dy", -17).attr("font-size", fs * 0.7).text(e);
    }
    const labels = svg.append("g").attr("font-size", fs).attr("fill", "#000");
    xTicks.forEach(v => {
      const t = labels.append("text")
        .attr("x", x(v)).attr("y", 1058)
        .attr("text-anchor", "middle");
      powLabel(t, v);
    });
    yTicks.forEach(v => {
      const t = labels.append("text")
        .attr("x", 161).attr("y", y(v) + 17)
        .attr("text-anchor", "end");
      powLabel(t, v);
    });

    // axis titles
    labels.append("text")
      .attr("x", (m.left + m.right) / 2).attr("y", 1116)
      .attr("text-anchor", "middle")
      .text("Degree (Number of Connections)");
    labels.append("text")
      .attr("transform", `translate(62,${(m.top + m.bottom) / 2}) rotate(-90)`)
      .attr("text-anchor", "middle")
      .text("Frequency (Count of Occurrences)");

    // ---- colour bar ----
    const cb = { x0: 1478, x1: 1526 };
    const cy = d3.scaleLinear().domain([2001, 2025]).range([996, 46]);
    const grad = svg.append("defs").append("linearGradient")
      .attr("id", "cbar").attr("x1", 0).attr("y1", 1).attr("x2", 0).attr("y2", 0);
    coolStops.forEach((c, i) => {
      grad.append("stop")
        .attr("offset", i / (coolStops.length - 1))
        .attr("stop-color", d3.rgb(c[0], c[1], c[2]).toString())
        .attr("stop-opacity", 0.7);
    });
    svg.append("rect")
      .attr("x", cb.x0).attr("y", cy(2025))
      .attr("width", cb.x1 - cb.x0).attr("height", cy(2001) - cy(2025))
      .attr("fill", "url(#cbar)")
      .attr("stroke", "#000").attr("stroke-width", spineW);
    svg.append("g").attr("stroke", "#000").attr("stroke-width", spineW)
      .selectAll("line").data(years).join("line")
      .attr("x1", cb.x1).attr("x2", cb.x1 + 14.6)
      .attr("y1", d => cy(d)).attr("y2", d => cy(d));
    labels.selectAll(".cbl").data(years).join("text")
      .attr("x", 1556).attr("y", d => cy(d) + 16)
      .text(d => d);
    labels.append("text")
      .attr("transform", `translate(1711,${cy(2013)}) rotate(-90)`)
      .attr("text-anchor", "middle")
      .text("Year");
  </script>
</body>

</html>
